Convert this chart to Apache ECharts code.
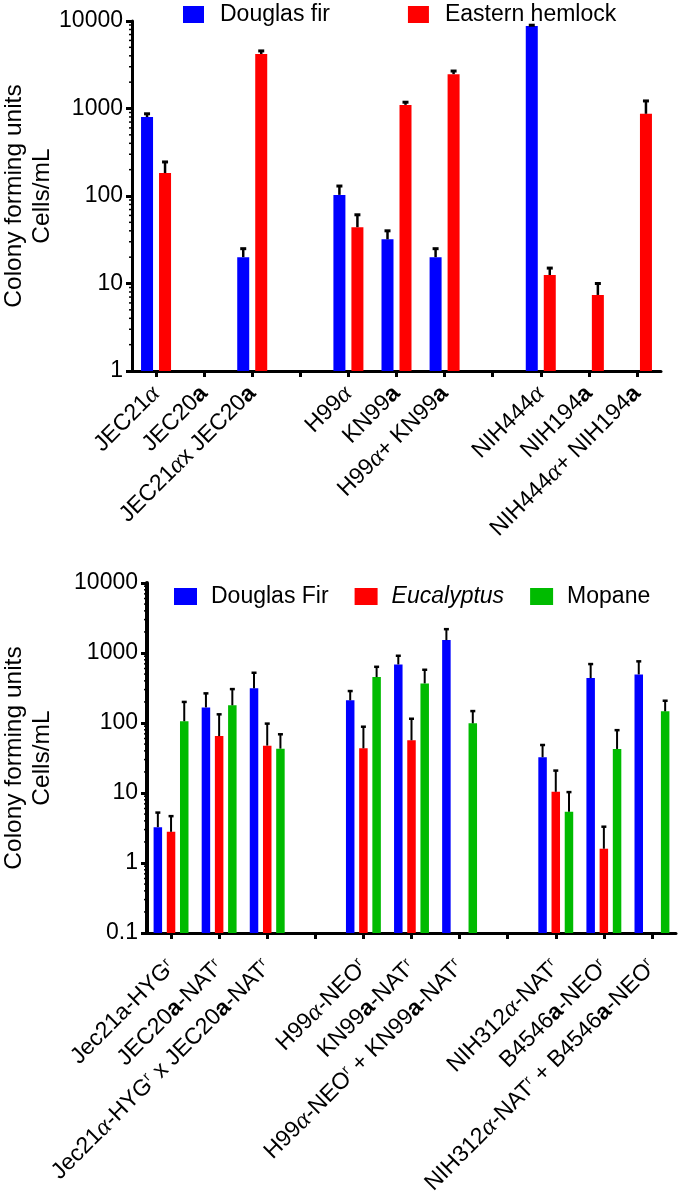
<!DOCTYPE html>
<html>
<head>
<meta charset="utf-8">
<script src="https://cdn.jsdelivr.net/npm/echarts@6/dist/echarts.min.js"></script>
<style>
html,body{margin:0;padding:0;background:#fff;}
#chart{width:679px;height:1200px;}
</style>
</head>
<body>
<div id="chart"></div>
<script>
// ---------- DATA (top panel) ----------
const topCategories = ['JEC21{al|α}', 'JEC20{b|a}', 'JEC21{al|α}x JEC20{b|a}', ' ',
  'H99{al|α}', 'KN99{b|a}', 'H99{al|α}+ KN99{b|a}', '  ',
  'NIH444{al|α}', 'NIH194{b|a}', 'NIH444{al|α}+ NIH194{b|a}'];
const topDouglas      = [800, null, 20, null, 103, 32, 20, null, 8760, null, null];
const topDouglasUpper = [870, null, 25, null, 130, 40, 25, null, 8950, null, null];
const topHemlock      = [183, null, 4200, null, 44, 1100, 2470, null, 12.5, 7.4, 870];
const topHemlockUpper = [245, null, 4550, null, 61, 1180, 2680, null, 15, 10, 1220];

// ---------- DATA (bottom panel) ----------
const botCategories = ['Jec21a-HYG{sup|r}', 'JEC20{b|a}-NAT{sup|r}', 'Jec21{al|α}-HYG{sup|r} x JEC20{b|a}-NAT{sup|r}', ' ',
  'H99{al|α}-NEO{sup|r}', 'KN99{b|a}-NAT{sup|r}', 'H99{al|α}-NEO{sup|r} + KN99{b|a}-NAT{sup|r}', '  ',
  'NIH312{al|α}-NAT{sup|r}', 'B4546{b|a}-NEO{sup|r}', 'NIH312{al|α}-NAT{sup|r} + B4546{b|a}-NEO{sup|r}'];
const botDouglas      = [3.25, 167, 313, null, 211, 687, 1528, null, 32.4, 438, 495];
const botDouglasUpper = [5.25, 265, 522, null, 286, 913, 2190, null, 48.5, 695, 760];
const botEucalyptus      = [2.79, 65, 47.5, null, 43.5, 56.6, null, null, 10.4, 1.6, null];
const botEucalyptusUpper = [4.67, 133, 98, null, 88.5, 115, null, null, 20.9, 3.3, null];
const botMopane      = [106, 179, 43, null, 453, 368, 99, null, 5.4, 42.6, 147];
const botMopaneUpper = [200, 305, 69, null, 635, 576, 148, null, 10.3, 79, 208];

const topYMin = 1, topYMax = 10000;
const botYMin = 0.1, botYMax = 10000;

// ---------- STYLE ----------
const FONT = '"Liberation Sans", Arial, sans-serif';
const BLUE = '#0000FF', RED = '#FF0000', GREEN = '#00BB00';
const TOP_BW = 12, TOP_GAP = 6;
const BOT_BW = 8.5, BOT_GAP = 4.7;
const LABEL_FS = 23;

function minorValues(min, max) {
  const out = [];
  for (let d = min; d < max; d *= 10) {
    for (let k = 2; k <= 9; k++) out.push(+(d * k).toPrecision(6));
  }
  return out;
}

const labelRich = {
  al: { fontFamily: '"Liberation Serif", serif', fontStyle: 'italic', fontSize: LABEL_FS + 2, color: '#000' },
  b: { fontFamily: FONT, fontWeight: 'bold', fontSize: LABEL_FS, color: '#000' },
  sup: { fontFamily: FONT, fontSize: 14, color: '#000', verticalAlign: 'top' }
};

function errSeries(xi, means, uppers, offset, capW, lw, capLw) {
  return {
    type: 'custom', xAxisIndex: xi, yAxisIndex: xi, z: 5, silent: true,
    data: means.map((m, i) => (m == null ? null : [i, m, uppers[i]])).filter(Boolean),
    encode: { x: 0, y: [1, 2] },
    renderItem: function (params, api) {
      const c = api.value(0);
      const p0 = api.coord([c, api.value(1)]);
      const p1 = api.coord([c, api.value(2)]);
      const x = p0[0] + offset;
      return {
        type: 'group',
        children: [
          { type: 'line', shape: { x1: x, y1: p0[1], x2: x, y2: p1[1] }, style: { stroke: '#000', lineWidth: lw } },
          { type: 'line', shape: { x1: x - capW / 2, y1: p1[1], x2: x + capW / 2, y2: p1[1] }, style: { stroke: '#000', lineWidth: capLw } }
        ]
      };
    }
  };
}

function minorTickSeries(xi, min, max, len, lw) {
  return {
    type: 'custom', xAxisIndex: xi, yAxisIndex: xi, z: 6, silent: true,
    data: minorValues(min, max).map(v => [0, v]),
    encode: { x: 0, y: 1 },
    renderItem: function (params, api) {
      const y = api.coord([0, api.value(1)])[1];
      const x = params.coordSys.x;
      return { type: 'line', shape: { x1: x - len, y1: y, x2: x, y2: y }, style: { stroke: '#000', lineWidth: lw } };
    }
  };
}

function yAxisCfg(gi, min, max, gap, axisW) {
  return {
    type: 'log', logBase: 10, gridIndex: gi, min: min, max: max, startValue: min,
    name: 'Colony forming units\nCells/mL', nameLocation: 'middle', nameGap: gap, nameMoveOverlap: false,
    nameTextStyle: { fontFamily: FONT, fontSize: 24.5, lineHeight: 28, color: '#000', align: 'center' },
    axisLine: { show: true, lineStyle: { color: '#000', width: axisW } },
    axisTick: { show: true, length: 6, lineStyle: { color: '#000', width: 3 } },
    splitLine: { show: false },
    axisLabel: { fontFamily: FONT, fontSize: 23, color: '#000', margin: 9,
      formatter: v => String(+v.toPrecision(6)) }
  };
}

function xAxisCfg(gi, cats, margin) {
  return {
    type: 'category', gridIndex: gi, data: cats,
    axisLine: { show: true, lineStyle: { color: '#000', width: 3 } },
    axisTick: { show: true, alignWithLabel: true, length: 6, lineStyle: { color: '#000', width: 3 } },
    axisLabel: { interval: 0, rotate: 45, fontFamily: FONT, fontSize: LABEL_FS, color: '#000', margin: margin, rich: labelRich },
    splitLine: { show: false }
  };
}

const chart = echarts.init(document.getElementById('chart'), null, { renderer: 'canvas' });
chart.setOption({
  animation: false,
  backgroundColor: '#fff',
  grid: [
    { left: 132, top: 21, width: 529, height: 350, outerBoundsMode: 'none', containLabel: false },
    { left: 147, top: 583, width: 529, height: 350, outerBoundsMode: 'none', containLabel: false }
  ],
  legend: [
    { top: -2, left: 178, itemWidth: 21, itemHeight: 17, itemGap: 78, icon: 'rect',
      data: ['Douglas fir', 'Eastern hemlock'],
      textStyle: { fontFamily: FONT, fontSize: 23, color: '#000', padding: [0, 0, 0, 11] } },
    { top: 580, left: 169, itemWidth: 23, itemHeight: 17, itemGap: 26, icon: 'rect',
      data: ['Douglas Fir', 'Eucalyptus', 'Mopane'],
      formatter: n => (n === 'Eucalyptus' ? '{i|Eucalyptus}' : n),
      textStyle: { fontFamily: FONT, fontSize: 23, color: '#000', padding: [0, 0, 0, 9],
        rich: { i: { fontFamily: FONT, fontSize: 23, fontStyle: 'italic', color: '#000' } } } }
  ],
  xAxis: [xAxisCfg(0, topCategories, 19), xAxisCfg(1, botCategories, 31)],
  yAxis: [yAxisCfg(0, topYMin, topYMax, 76, 3), yAxisCfg(1, botYMin, botYMax, 91, 4)],
  series: [
    { name: 'Douglas fir', type: 'bar', xAxisIndex: 0, yAxisIndex: 0, data: topDouglas,
      barWidth: TOP_BW, barGap: (TOP_GAP / TOP_BW * 100) + '%', itemStyle: { color: BLUE } },
    { name: 'Eastern hemlock', type: 'bar', xAxisIndex: 0, yAxisIndex: 0, data: topHemlock,
      barWidth: TOP_BW, barGap: (TOP_GAP / TOP_BW * 100) + '%', itemStyle: { color: RED } },
    errSeries(0, topDouglas, topDouglasUpper, -(TOP_BW + TOP_GAP) / 2, 6, 2.5, 3),
    errSeries(0, topHemlock, topHemlockUpper, (TOP_BW + TOP_GAP) / 2, 6, 2.5, 3),
    minorTickSeries(0, topYMin, topYMax, 3, 1.5),

    { name: 'Douglas Fir', type: 'bar', xAxisIndex: 1, yAxisIndex: 1, data: botDouglas,
      barWidth: BOT_BW, barGap: (BOT_GAP / BOT_BW * 100) + '%', itemStyle: { color: BLUE } },
    { name: 'Eucalyptus', type: 'bar', xAxisIndex: 1, yAxisIndex: 1, data: botEucalyptus,
      barWidth: BOT_BW, barGap: (BOT_GAP / BOT_BW * 100) + '%', itemStyle: { color: RED } },
    { name: 'Mopane', type: 'bar', xAxisIndex: 1, yAxisIndex: 1, data: botMopane,
      barWidth: BOT_BW, barGap: (BOT_GAP / BOT_BW * 100) + '%', itemStyle: { color: GREEN } },
    errSeries(1, botDouglas, botDouglasUpper, -(BOT_BW + BOT_GAP), 5, 2, 2.5),
    errSeries(1, botEucalyptus, botEucalyptusUpper, 0, 5, 2, 2.5),
    errSeries(1, botMopane, botMopaneUpper, (BOT_BW + BOT_GAP), 5, 2, 2.5),
    minorTickSeries(1, botYMin, botYMax, 3, 1.5)
  ]
});
</script>
</body>
</html>
